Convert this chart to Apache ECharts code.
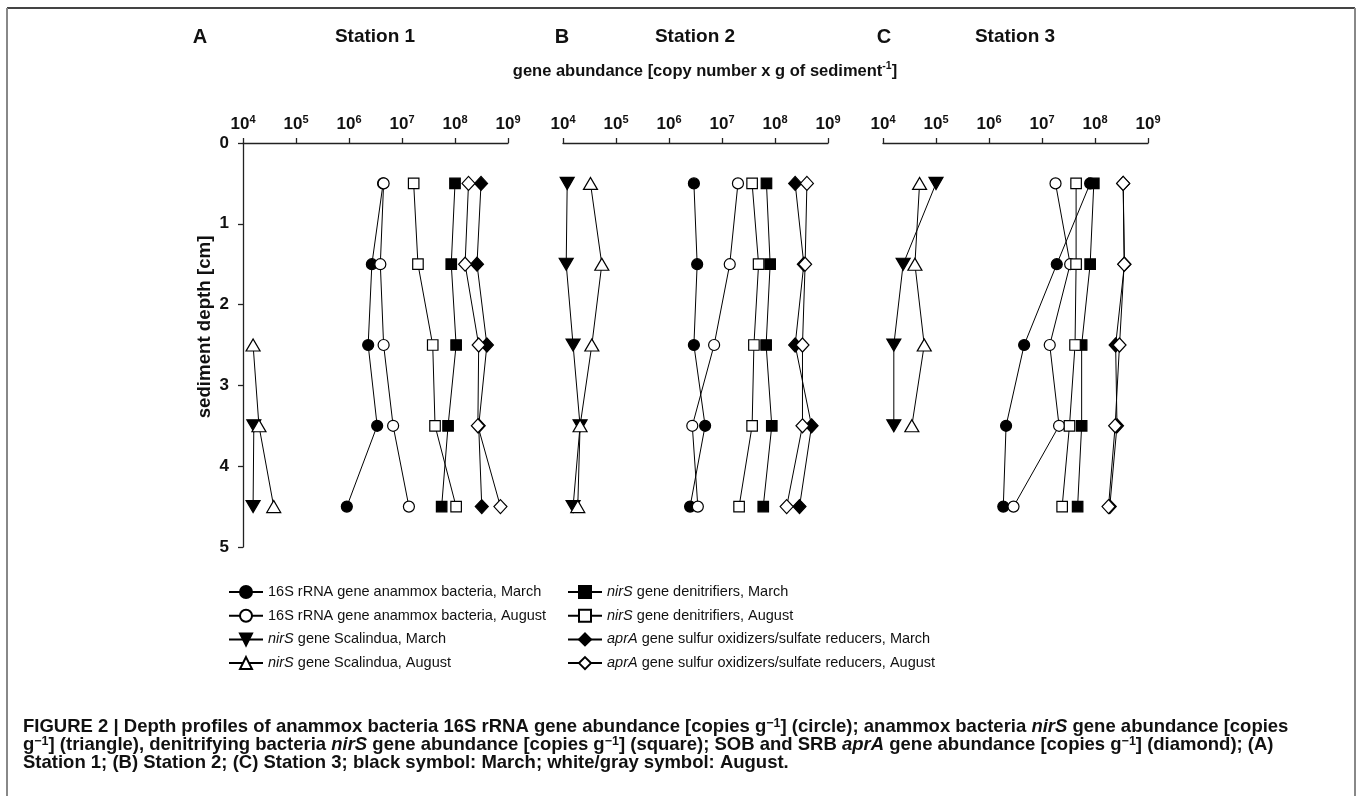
<!DOCTYPE html>
<html><head><meta charset="utf-8">
<script src="https://cdn.jsdelivr.net/npm/echarts@6/dist/echarts.min.js"></script>
<style>html,body{margin:0;padding:0;background:#fff}#c{width:1357px;height:796px}</style>
</head><body><div id="c"></div>
<script>
// ---------------- DATA ----------------
const depths = [0.5, 1.5, 2.5, 3.5, 4.5];           // sediment depth [cm]
const tickExponents = [4, 5, 6, 7, 8, 9];           // x tick labels 10^n
const depthTicks = [0, 1, 2, 3, 4, 5];
const stationNames = ['Station 1', 'Station 2', 'Station 3'];
const panelLetters = ['A', 'B', 'C'];
const seriesNames = [
  '16S rRNA gene anammox bacteria, March',
  '16S rRNA gene anammox bacteria, August',
  'nirS gene Scalindua, March',
  'nirS gene Scalindua, August',
  'nirS gene denitrifiers, March',
  'nirS gene denitrifiers, August',
  'aprA gene sulfur oxidizers/sulfate reducers, March',
  'aprA gene sulfur oxidizers/sulfate reducers, August'
];

// Station 1 (copies per g sediment at each depth; null = not shown)
const st1_16S_Mar   = [4.4e6, 2.7e6, 2.3e6, 3.4e6, 9.1e5];
const st1_16S_Aug   = [4.5e6, 3.9e6, 4.5e6, 6.8e6, 1.35e7];
const st1_Scal_Mar  = [null, null, null, 1.6e4, 1.55e4];
const st1_Scal_Aug  = [null, null, 1.55e4, 2.0e4, 3.8e4];
const st1_Den_Mar   = [1.0e8, 8.5e7, 1.05e8, 7.4e7, 5.6e7];
const st1_Den_Aug   = [1.66e7, 2.0e7, 3.8e7, 4.2e7, 1.05e8];
const st1_apr_Mar   = [3.1e8, 2.6e8, 4.0e8, 2.8e8, 3.2e8];
const st1_apr_Aug   = [1.8e8, 1.55e8, 2.8e8, 2.7e8, 7.2e8];

// Station 2
const st2_16S_Mar   = [2.95e6, 3.4e6, 2.95e6, 4.8e6, 2.5e6];
const st2_16S_Aug   = [2.0e7, 1.4e7, 7.1e6, 2.75e6, 3.5e6];
const st2_Scal_Mar  = [1.2e4, 1.15e4, 1.55e4, 2.1e4, 1.55e4];
const st2_Scal_Aug  = [3.3e4, 5.4e4, 3.5e4, 2.1e4, 1.9e4];
const st2_Den_Mar   = [6.9e7, 8.1e7, 6.8e7, 8.7e7, 6.0e7];
const st2_Den_Aug   = [3.7e7, 4.9e7, 4.0e7, 3.7e7, 2.1e7];
const st2_apr_Mar   = [2.4e8, 3.5e8, 2.4e8, 4.9e8, 2.9e8];
const st2_apr_Aug   = [4.0e8, 3.7e8, 3.3e8, 3.3e8, 1.66e8];

// Station 3
const st3_16S_Mar   = [8.1e7, 1.9e7, 4.6e6, 2.1e6, 1.86e6];
const st3_16S_Aug   = [1.8e7, 3.4e7, 1.4e7, 2.1e7, 2.9e6];
const st3_Scal_Mar  = [1.0e5, 2.4e4, 1.6e4, 1.6e4, null];
const st3_Scal_Aug  = [4.9e4, 4.0e4, 6.0e4, 3.5e4, null];
const st3_Den_Mar   = [9.5e7, 8.1e7, 5.6e7, 5.6e7, 4.7e7];
const st3_Den_Aug   = [4.4e7, 4.4e7, 4.2e7, 3.3e7, 2.4e7];
const st3_apr_Mar   = [3.4e8, 3.6e8, 2.45e8, 2.6e8, 1.9e8];
const st3_apr_Aug   = [3.4e8, 3.55e8, 2.9e8, 2.4e8, 1.8e8];

const stationData = [
  [st1_16S_Mar, st1_16S_Aug, st1_Scal_Mar, st1_Scal_Aug, st1_Den_Mar, st1_Den_Aug, st1_apr_Mar, st1_apr_Aug],
  [st2_16S_Mar, st2_16S_Aug, st2_Scal_Mar, st2_Scal_Aug, st2_Den_Mar, st2_Den_Aug, st2_apr_Mar, st2_apr_Aug],
  [st3_16S_Mar, st3_16S_Aug, st3_Scal_Mar, st3_Scal_Aug, st3_Den_Mar, st3_Den_Aug, st3_apr_Mar, st3_apr_Aug]
];

// ---------------- STYLE ----------------
const FONT = "'Liberation Sans', Arial, Helvetica, sans-serif";
const gridLefts = [243, 563, 883];
const gridWidth = 265;
const gridTop = 143;
const gridHeight = 404;

const symbolDefs = [
  {symbol: 'circle', size: 11, rotate: 0, fill: '#000'},
  {symbol: 'circle', size: 11, rotate: 0, fill: '#fff'},
  {symbol: 'triangle', size: [14, 12], rotate: 180, fill: '#000'},
  {symbol: 'triangle', size: [14, 12], rotate: 0, fill: '#fff'},
  {symbol: 'rect', size: 10.5, rotate: 0, fill: '#000'},
  {symbol: 'rect', size: 10.5, rotate: 0, fill: '#fff'},
  {symbol: 'diamond', size: [13, 14], rotate: 0, fill: '#000'},
  {symbol: 'diamond', size: [13, 14], rotate: 0, fill: '#fff'}
];

const grids = [], xAxes = [], yAxes = [], series = [];
for (let i = 0; i < 3; i++) {
  grids.push({left: gridLefts[i], top: gridTop, width: gridWidth, height: gridHeight});
  xAxes.push({
    type: 'log', logBase: 10, min: Math.pow(10, tickExponents[0]), max: Math.pow(10, tickExponents[tickExponents.length - 1]),
    gridIndex: i, position: 'top',
    axisLine: {show: true, onZero: false, lineStyle: {color: '#222', width: 1.3}},
    axisTick: {show: true, length: 5, lineStyle: {color: '#222', width: 1.3}},
    minorTick: {show: false}, splitLine: {show: false},
    axisLabel: {
      margin: 9, color: '#111',
      formatter: v => '{b|10}{s|' + Math.round(Math.log10(v)) + '}',
      rich: {
        b: {fontSize: 17, fontWeight: 'bold', fontFamily: FONT, color: '#111', lineHeight: 20},
        s: {fontSize: 11, fontWeight: 'bold', fontFamily: FONT, color: '#111', verticalAlign: 'top', lineHeight: 12}
      }
    }
  });
  yAxes.push({
    type: 'value', inverse: true, min: depthTicks[0], max: depthTicks[depthTicks.length - 1], interval: 1,
    gridIndex: i, show: i === 0,
    axisLine: {show: true, onZero: false, lineStyle: {color: '#222', width: 1.3}},
    axisTick: {show: true, length: 5, lineStyle: {color: '#222', width: 1.3}},
    splitLine: {show: false},
    axisLabel: {margin: 14, fontSize: 17, fontWeight: 'bold', fontFamily: FONT, color: '#111'}
  });
  stationData[i].forEach((vals, k) => {
    const sd = symbolDefs[k];
    const pts = [];
    vals.forEach((v, j) => { if (v !== null) pts.push([v, depths[j]]); });
    series.push({
      type: 'line', name: seriesNames[k], xAxisIndex: i, yAxisIndex: i,
      data: pts, symbol: sd.symbol, symbolSize: sd.size, symbolRotate: sd.rotate,
      showAllSymbol: true, animation: false,
      lineStyle: {color: '#000', width: 1},
      itemStyle: {color: sd.fill, borderColor: '#000', borderWidth: 1.2},
      emphasis: {disabled: true}
    });
  });
}

function legendFormatter(name) {
  if (name.indexOf('nirS') === 0) return '{i|nirS}' + name.slice(4);
  if (name.indexOf('aprA') === 0) return '{i|aprA}' + name.slice(4);
  return name;
}
const legendText = {
  fontSize: 14.5, fontFamily: FONT, color: '#111', lineHeight: 16,
  rich: {i: {fontSize: 14.5, fontFamily: FONT, fontStyle: 'italic', color: '#111', lineHeight: 16}}
};
const legendCommon = {
  orient: 'vertical', top: 584, itemWidth: 34, itemHeight: 15, itemGap: 7.7,
  textStyle: legendText, formatter: legendFormatter, selectedMode: false, padding: 0
};

function txt(text, x, y, size, opts) {
  opts = opts || {};
  return {
    type: 'text', x: x, y: y, rotation: opts.rotation || 0, silent: true,
    style: {
      text: text, fill: opts.fill || '#111', font: 'bold ' + size + 'px ' + FONT,
      align: opts.align || 'center', textAlign: opts.align || 'center',
      verticalAlign: 'middle', textVerticalAlign: 'middle',
      rich: opts.rich
    }
  };
}

const CAP = 18.5;
const capRich = {
  b: {fontSize: CAP, fontWeight: 'bold', fontFamily: FONT, color: '#222', lineHeight: 20},
  bi: {fontSize: CAP, fontWeight: 'bold', fontStyle: 'italic', fontFamily: FONT, color: '#222', lineHeight: 20},
  sup: {fontSize: 12.5, fontWeight: 'bold', fontFamily: FONT, color: '#222', verticalAlign: 'top', lineHeight: 13}
};
const capLine1 = '{b|FIGURE 2 | Depth profiles of anammox bacteria 16S rRNA gene abundance [copies g}{sup|\u22121}{b|] (circle); anammox bacteria }{bi|nirS}{b| gene abundance [copies}';
const capLine2 = '{b|g}{sup|\u22121}{b|] (triangle), denitrifying bacteria }{bi|nirS}{b| gene abundance [copies g}{sup|\u22121}{b|] (square); SOB and SRB }{bi|aprA}{b| gene abundance [copies g}{sup|\u22121}{b|] (diamond); (A)}';
const capLine3 = '{b|Station 1; (B) Station 2; (C) Station 3; black symbol: March; white/gray symbol: August.}';

const axTitleRich = {
  b: {fontSize: 16.5, fontWeight: 'bold', fontFamily: FONT, color: '#111', lineHeight: 20},
  s: {fontSize: 10.5, fontWeight: 'bold', fontFamily: FONT, color: '#111', verticalAlign: 'top', lineHeight: 12}
};

const graphics = [
  {type: 'line', silent: true, shape: {x1: 7, y1: 8, x2: 1355, y2: 8}, style: {stroke: '#444', lineWidth: 2}},
  {type: 'line', silent: true, shape: {x1: 7, y1: 8, x2: 7, y2: 796}, style: {stroke: '#888', lineWidth: 2}},
  {type: 'line', silent: true, shape: {x1: 1355, y1: 8, x2: 1355, y2: 796}, style: {stroke: '#888', lineWidth: 2}},
  txt(panelLetters[0], 200, 37, 20), txt(stationNames[0], 375, 37, 19),
  txt(panelLetters[1], 562, 37, 20), txt(stationNames[1], 695, 37, 19),
  txt(panelLetters[2], 884, 37, 20), txt(stationNames[2], 1015, 37, 19),
  txt('{b|gene abundance [copy number x g of sediment}{s|-1}{b|]}', 705, 71, 16.5, {rich: axTitleRich}),
  txt('sediment depth [cm]', 205, 327, 18.7, {rotation: Math.PI / 2}),
  txt(capLine1, 23, 727, CAP, {align: 'left', rich: capRich}),
  txt(capLine2, 23, 745, CAP, {align: 'left', rich: capRich}),
  txt(capLine3, 23, 763, CAP, {align: 'left', rich: capRich})
];

const chart = echarts.init(document.getElementById('c'), null, {renderer: 'canvas'});
chart.setOption({
  animation: false,
  backgroundColor: '#fff',
  grid: grids, xAxis: xAxes, yAxis: yAxes, series: series,
  legend: [
    Object.assign({left: 228, data: seriesNames.slice(0, 4)}, legendCommon),
    Object.assign({left: 567, data: seriesNames.slice(4, 8)}, legendCommon)
  ],
  graphic: graphics
});
</script>
</body></html>
